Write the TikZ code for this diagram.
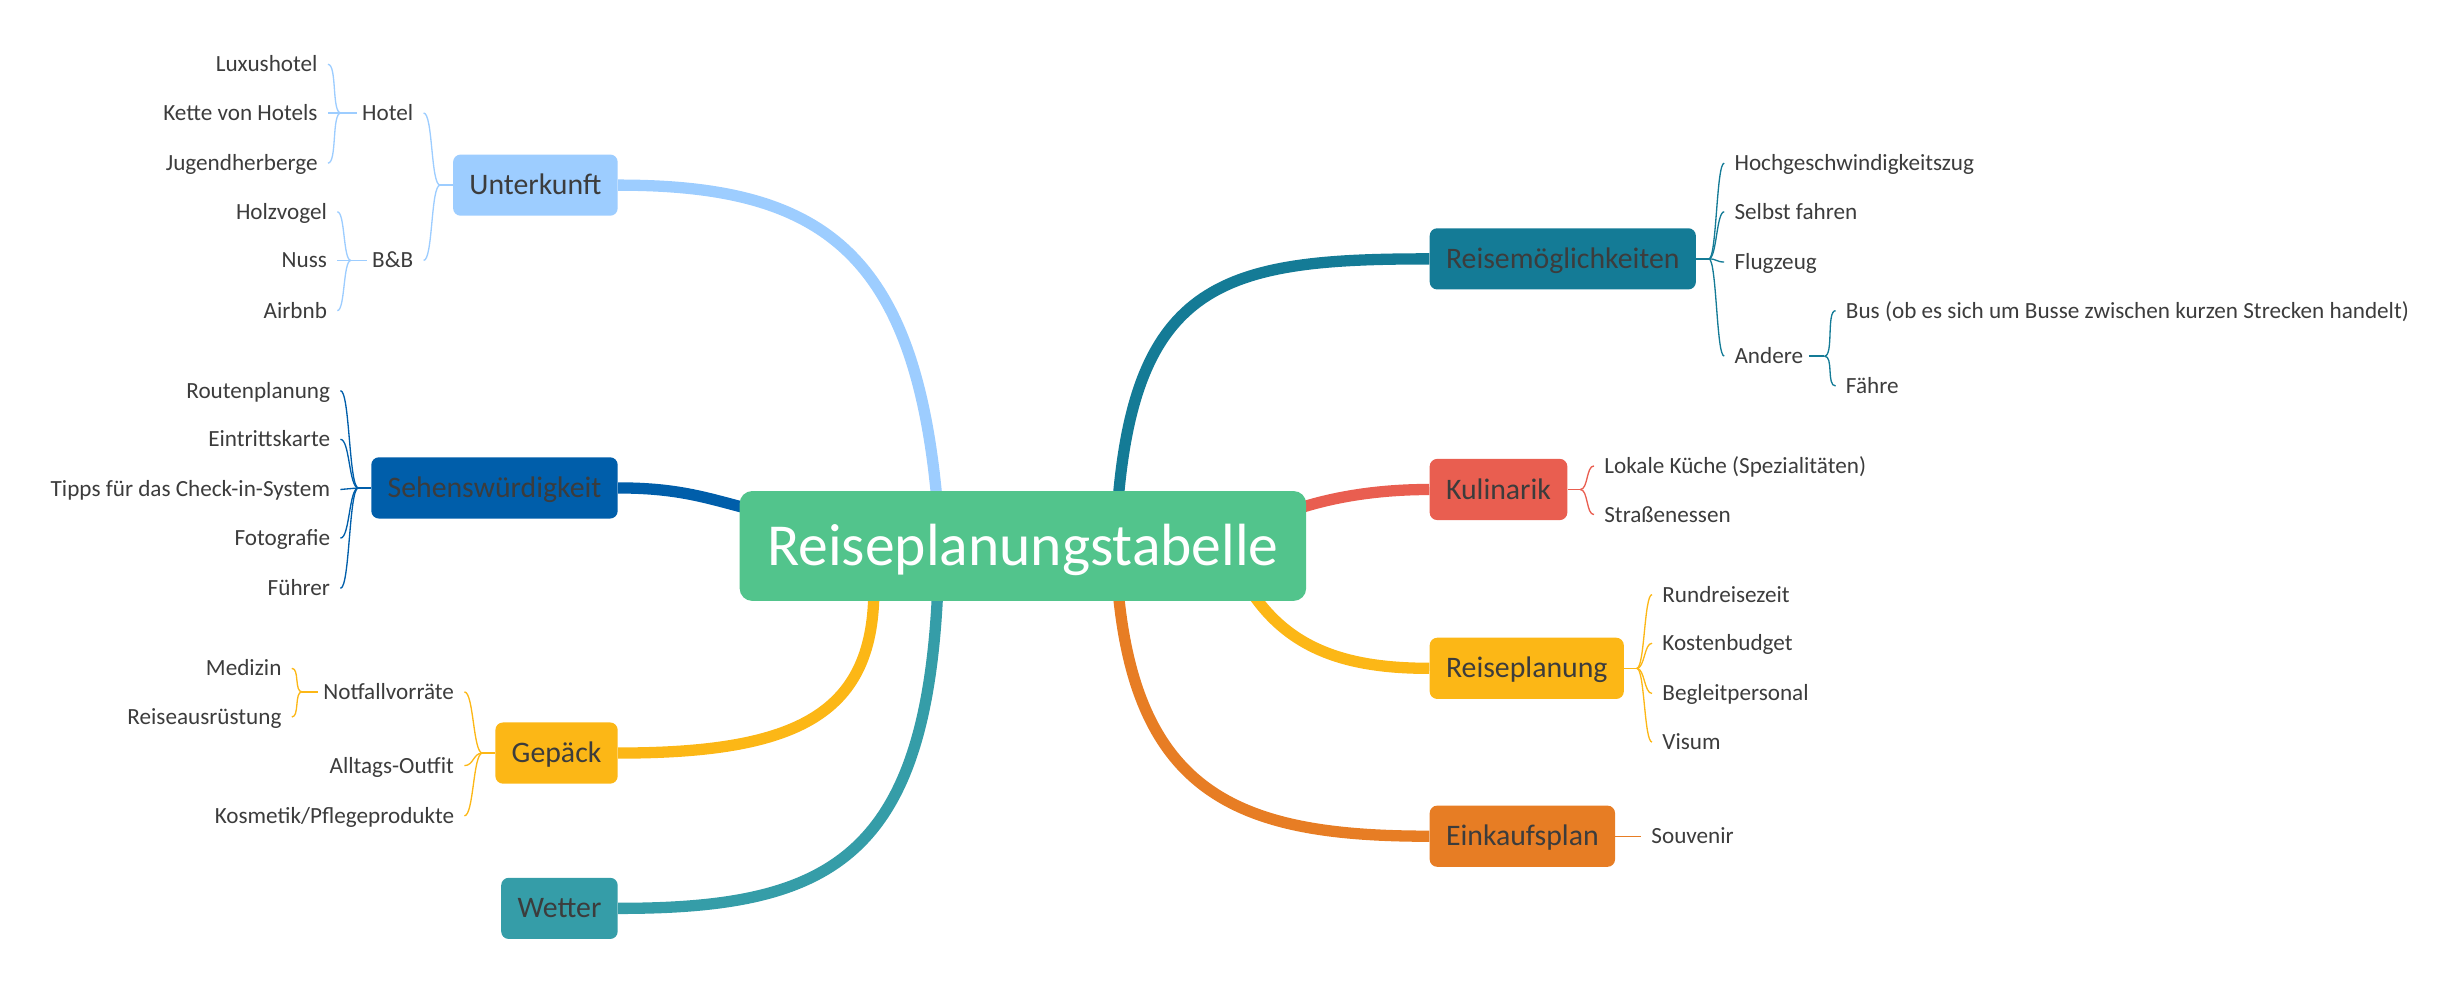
\documentclass[tikz,border=0pt]{standalone}
\usepackage{fontspec}
\setmainfont{Carlito}
\usetikzlibrary{calc,backgrounds}

\definecolor{wurzelgruen}{RGB}{82,196,140}
\definecolor{hellblau}{RGB}{157,205,255}
\definecolor{dunkelblau}{RGB}{0,94,170}
\definecolor{bernstein}{RGB}{252,183,22}
\definecolor{petrol}{RGB}{53,157,168}
\definecolor{seeblau}{RGB}{20,123,150}
\definecolor{tomate}{RGB}{233,94,80}
\definecolor{karotte}{RGB}{231,125,36}
\definecolor{schrift}{RGB}{60,60,60}

\begin{document}
\begin{tikzpicture}[x=0.025cm, y=-0.025cm,
    wurzel/.style={fill=wurzelgruen, text=white, rounded corners=0.2cm, minimum width=9.025cm, minimum height=1.75cm, font=\fontsize{27}{31}\selectfont, text height=17.4pt, text depth=0pt},
    thema/.style={rounded corners=0.12cm, text=schrift, minimum height=0.975cm, inner xsep=0.26cm, font=\fontsize{13.5}{16}\selectfont, text height=8.7pt, text depth=0pt},
    blatt/.style={text=schrift, inner xsep=4.5pt, inner ysep=2pt, font=\fontsize{10.5}{12}\selectfont, text height=6.8pt, text depth=0pt},
    ast/.style={line width=0.18cm},
    zweig/.style={line width=0.6pt}]
        \useasboundingbox (0,0) rectangle (1568,638);

        % Mitte
        \node[wurzel] (root) at (652,348) {Reiseplanungstabelle};

        % Hauptthemen links
        \node[thema, fill=hellblau, anchor=east] (unterkunft) at (394,118) {Unterkunft};
        \node[thema, fill=dunkelblau, anchor=east] (sehens) at (394,311) {Sehenswürdigkeit};
        \node[thema, fill=bernstein, anchor=east] (gepaeck) at (394,480) {Gepäck};
        \node[thema, fill=petrol, anchor=east] (wetter) at (394,579) {Wetter};

        % Hauptthemen rechts
        \node[thema, fill=seeblau, anchor=west] (moeglich) at (911,165) {Reisemöglichkeiten};
        \node[thema, fill=tomate, anchor=west] (kulinarik) at (911,312) {Kulinarik};
        \node[thema, fill=bernstein, anchor=west] (planung) at (911,426) {Reiseplanung};
        \node[thema, fill=karotte, anchor=west] (einkauf) at (911,533) {Einkaufsplan};

        % Unterkunft
        \node[blatt, anchor=east] (hotel) at (270,72) {Hotel};
        \node[blatt, anchor=east] (bnb) at (270,166) {B\&B};
        \node[blatt, anchor=east] (luxus) at (209,41) {Luxushotel};
        \node[blatt, anchor=east] (kette) at (209,72) {Kette von Hotels};
        \node[blatt, anchor=east] (jugend) at (209,104) {Jugendherberge};
        \node[blatt, anchor=east] (holz) at (215,135) {Holzvogel};
        \node[blatt, anchor=east] (nuss) at (215,166) {Nuss};
        \node[blatt, anchor=east] (airbnb) at (215,198) {Airbnb};

        % Sehenswürdigkeit
        \node[blatt, anchor=east] (route) at (217,249) {Routenplanung};
        \node[blatt, anchor=east] (eintritt) at (217,280) {Eintrittskarte};
        \node[blatt, anchor=east] (tipps) at (217,312) {Tipps für das Check-in-System};
        \node[blatt, anchor=east] (foto) at (217,343) {Fotografie};
        \node[blatt, anchor=east] (fuehrer) at (217,375) {Führer};

        % Gepäck
        \node[blatt, anchor=east] (notfall) at (296,441) {Notfallvorräte};
        \node[blatt, anchor=east] (outfit) at (296,488) {Alltags-Outfit};
        \node[blatt, anchor=east] (kosmetik) at (296,520) {Kosmetik/Pflegeprodukte};
        \node[blatt, anchor=east] (medizin) at (186,426) {Medizin};
        \node[blatt, anchor=east] (ausruest) at (186,457) {Reiseausrüstung};

        % Reisemöglichkeiten
        \node[blatt, anchor=west] (hgz) at (1099,104) {Hochgeschwindigkeitszug};
        \node[blatt, anchor=west] (selbst) at (1099,135) {Selbst fahren};
        \node[blatt, anchor=west] (flug) at (1099,167) {Flugzeug};
        \node[blatt, anchor=west] (andere) at (1099,227) {Andere};
        \node[blatt, anchor=west] (bus) at (1170,198) {Bus (ob es sich um Busse zwischen kurzen Strecken handelt)};
        \node[blatt, anchor=west] (faehre) at (1170,246) {Fähre};

        % Kulinarik
        \node[blatt, anchor=west] (lokal) at (1016,297) {Lokale Küche (Spezialitäten)};
        \node[blatt, anchor=west] (strasse) at (1016,328) {Straßenessen};

        % Reiseplanung
        \node[blatt, anchor=west] (rund) at (1053,379) {Rundreisezeit};
        \node[blatt, anchor=west] (budget) at (1053,410) {Kostenbudget};
        \node[blatt, anchor=west] (begleit) at (1053,442) {Begleitpersonal};
        \node[blatt, anchor=west] (visum) at (1053,473) {Visum};

        % Einkaufsplan
        \node[blatt, anchor=west] (souvenir) at (1046,533) {Souvenir};

        \begin{scope}[on background layer]
        % dicke Äste von der Mitte
        \draw[ast, hellblau] ($(root.center)+(-54,-20)$) .. controls ($(root.center)+(-67,-188)$) and ($(unterkunft.east)+(130,0)$) .. (unterkunft.east);
        \draw[ast, dunkelblau] ($(root.center)+(-172,-23)$) .. controls ($(root.center)+(-200,-30)$) and ($(sehens.east)+(40,0)$) .. (sehens.east);
        \draw[ast, bernstein] ($(root.center)+(-95,25)$) .. controls ($(root.center)+(-94,107)$) and ($(gepaeck.east)+(115,0)$) .. (gepaeck.east);
        \draw[ast, petrol] ($(root.center)+(-54,20)$) .. controls ($(root.center)+(-60,200)$) and ($(wetter.east)+(135,0)$) .. (wetter.east);
        \draw[ast, seeblau] ($(root.center)+(60,-20)$) .. controls ($(root.center)+(70,-170)$) and ($(moeglich.west)+(-130,0)$) .. (moeglich.west);
        \draw[ast, tomate] ($(root.center)+(170,-22)$) .. controls ($(root.center)+(198,-32)$) and ($(kulinarik.west)+(-30,0)$) .. (kulinarik.west);
        \draw[ast, bernstein] ($(root.center)+(140,20)$) .. controls ($(root.center)+(165,65)$) and ($(planung.west)+(-55,0)$) .. (planung.west);
        \draw[ast, karotte] ($(root.center)+(60,20)$) .. controls ($(root.center)+(70,160)$) and ($(einkauf.west)+(-120,0)$) .. (einkauf.west);

        % Zweige links
        \coordinate (ju) at ($(unterkunft.west)+(-8,0)$);
        \draw[zweig, hellblau] (unterkunft.west) -- (ju);
        \foreach \c in {hotel,bnb}
            \draw[zweig, hellblau] (ju) .. controls ($(ju)+(-6,0)$) and ($(\c.east)+(6,0)$) .. (\c.east);
        \coordinate (jh) at ($(hotel.west)+(-7,0)$);
        \draw[zweig, hellblau] ($(hotel.west)+(3,0)$) -- (jh);
        \foreach \c in {luxus,kette,jugend}
            \draw[zweig, hellblau] (jh) .. controls ($(jh)+(-6,0)$) and ($(\c.east)+(6,0)$) .. (\c.east);
        \coordinate (jb) at ($(bnb.west)+(-7,0)$);
        \draw[zweig, hellblau] ($(bnb.west)+(3,0)$) -- (jb);
        \foreach \c in {holz,nuss,airbnb}
            \draw[zweig, hellblau] (jb) .. controls ($(jb)+(-5,0)$) and ($(\c.east)+(5,0)$) .. (\c.east);
        \coordinate (js) at ($(sehens.west)+(-8,0)$);
        \draw[zweig, dunkelblau] (sehens.west) -- (js);
        \foreach \c in {route,eintritt,tipps,foto,fuehrer}
            \draw[zweig, dunkelblau] (js) .. controls ($(js)+(-6,0)$) and ($(\c.east)+(6,0)$) .. (\c.east);
        \coordinate (jg) at ($(gepaeck.west)+(-8,0)$);
        \draw[zweig, bernstein] (gepaeck.west) -- (jg);
        \foreach \c in {notfall,outfit,kosmetik}
            \draw[zweig, bernstein] (jg) .. controls ($(jg)+(-6,0)$) and ($(\c.east)+(6,0)$) .. (\c.east);
        \coordinate (jn) at ($(notfall.west)+(-7,0)$);
        \draw[zweig, bernstein] ($(notfall.west)+(3,0)$) -- (jn);
        \foreach \c in {medizin,ausruest}
            \draw[zweig, bernstein] (jn) .. controls ($(jn)+(-5,0)$) and ($(\c.east)+(5,0)$) .. (\c.east);

        % Zweige rechts
        \coordinate (jm) at ($(moeglich.east)+(8,0)$);
        \draw[zweig, seeblau] (moeglich.east) -- (jm);
        \foreach \c in {hgz,selbst,flug,andere}
            \draw[zweig, seeblau] (jm) .. controls ($(jm)+(5,0)$) and ($(\c.west)+(-5,0)$) .. (\c.west);
        \coordinate (ja) at ($(andere.east)+(7,0)$);
        \draw[zweig, seeblau] ($(andere.east)+(-3,0)$) -- (ja);
        \foreach \c in {bus,faehre}
            \draw[zweig, seeblau] (ja) .. controls ($(ja)+(6,0)$) and ($(\c.west)+(-6,0)$) .. (\c.west);
        \coordinate (jk) at ($(kulinarik.east)+(8,0)$);
        \draw[zweig, tomate] (kulinarik.east) -- (jk);
        \foreach \c in {lokal,strasse}
            \draw[zweig, tomate] (jk) .. controls ($(jk)+(5,0)$) and ($(\c.west)+(-5,0)$) .. (\c.west);
        \coordinate (jp) at ($(planung.east)+(8,0)$);
        \draw[zweig, bernstein] (planung.east) -- (jp);
        \foreach \c in {rund,budget,begleit,visum}
            \draw[zweig, bernstein] (jp) .. controls ($(jp)+(5,0)$) and ($(\c.west)+(-5,0)$) .. (\c.west);
        \draw[zweig, karotte] (einkauf.east) -- (souvenir.west);
        \end{scope}

    \end{tikzpicture}
\end{document}
